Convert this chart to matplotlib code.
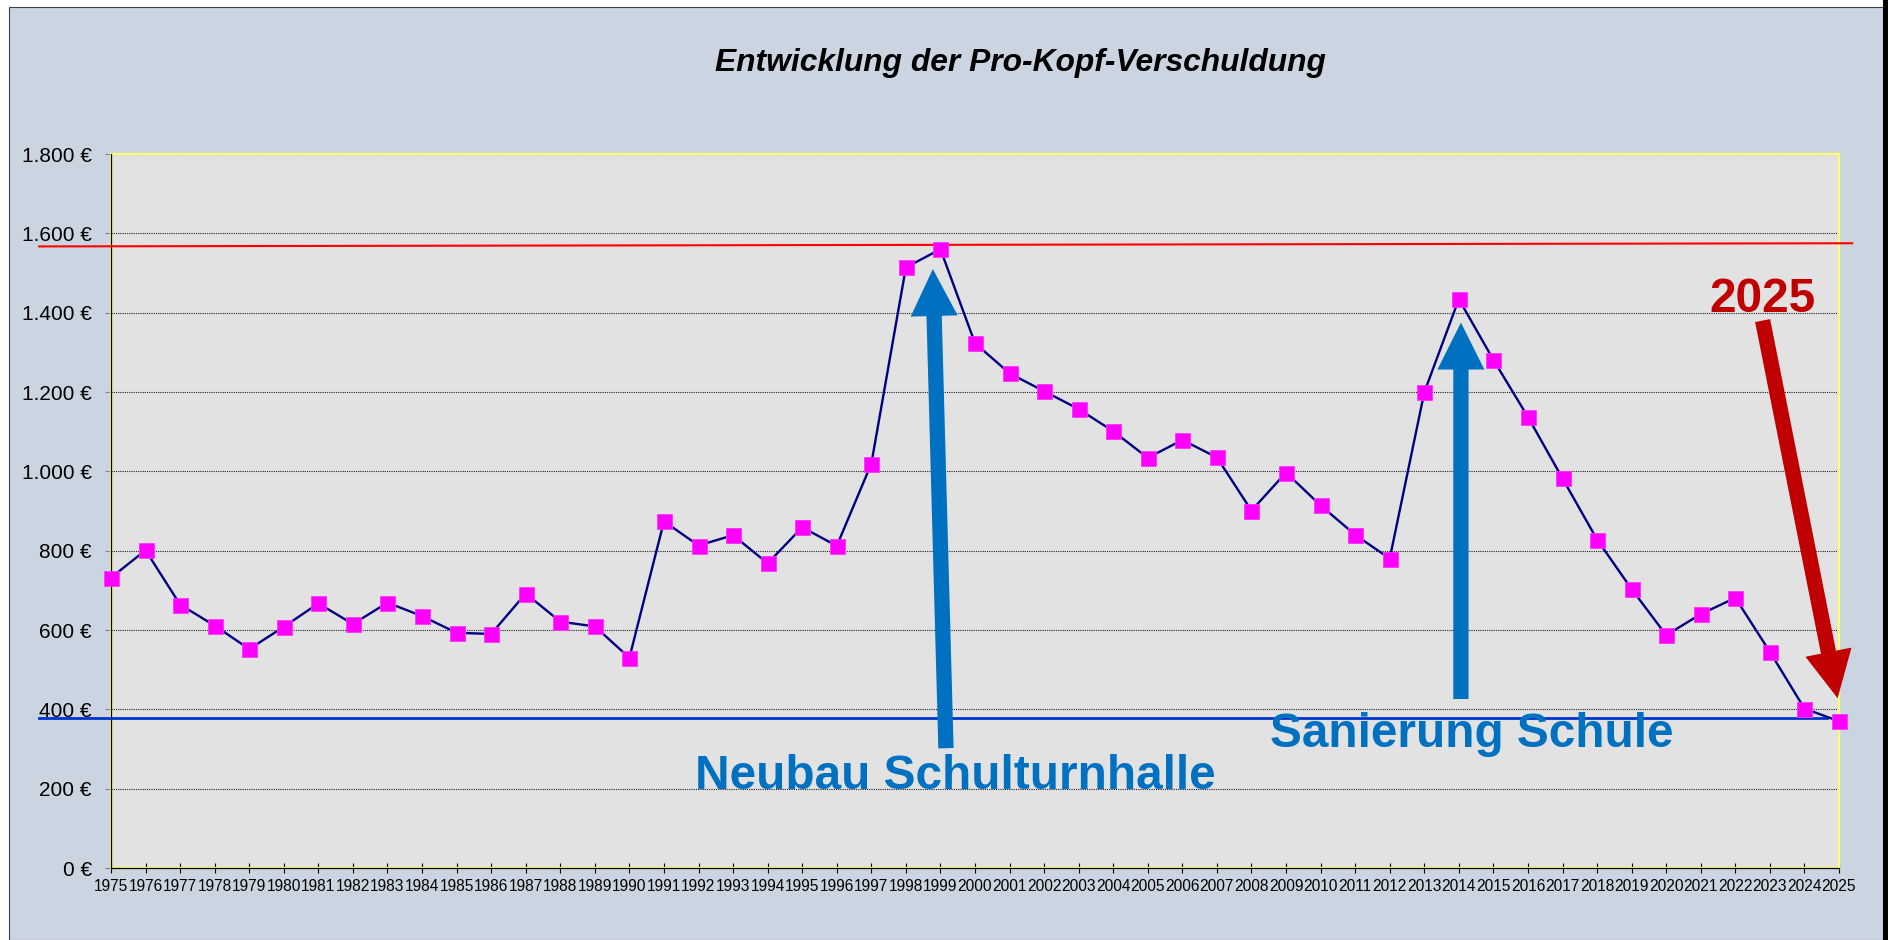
import matplotlib
matplotlib.use("Agg")
import matplotlib.pyplot as plt
from matplotlib.patches import Rectangle, FancyArrowPatch
from matplotlib.ticker import FuncFormatter

# --- data: debt per capita (EUR) ---
years = list(range(1975, 2026))
debt = [732, 801, 664, 611, 552, 608, 667, 615, 669, 635, 593, 590, 692, 621, 609, 530,
        874, 813, 839, 768, 859, 812, 1019, 1514, 1560, 1323,
        1247, 1202, 1157, 1101, 1034, 1079, 1035, 901, 997, 914, 840, 780,
        1199, 1434, 1281, 1137, 982, 828, 703, 587, 640, 681, 545, 402, 370]

y_ticks = [0, 200, 400, 600, 800, 1000, 1200, 1400, 1600, 1800]
title = "Entwicklung der Pro-Kopf-Verschuldung"

# reference levels (peak 1999 / 2025)
high_level = [1567, 1575]
low_level = [378, 378]

# annotations: (x, y) in data units
ann_turnhalle = {"text": "Neubau Schulturnhalle", "pos": (1999.44, 198),
                 "arrow": ((1999.16, 302), (1998.78, 1510))}
ann_schule = {"text": "Sanierung Schule", "pos": (2014.37, 306),
              "arrow": ((2014.06, 426), (2014.06, 1375))}
ann_2025 = {"text": "2025", "pos": (2022.79, 1402),
            "arrow": ((2022.79, 1380), (2024.96, 428))}

BG = "#CBD5E1"
PLOT_BG = "#E2E2E2"
BLUE = "#0070C0"
DARKRED = "#C00000"
FONT = "Liberation Sans"

W, H = 1888, 940
fig = plt.figure(figsize=(W / 100, H / 100), dpi=100)
fig.patch.set_facecolor("white")

# chart area background with thin frame
fig.add_artist(Rectangle((9 / W, 0), (1883 - 9) / W, (H - 7) / H, transform=fig.transFigure,
                         facecolor=BG, edgecolor="#404040", lw=0.8, zorder=-10))
fig.add_artist(Rectangle((1883 / W, 0), 5 / W, 1, transform=fig.transFigure,
                         facecolor="black", edgecolor="none", zorder=-9))

ax = fig.add_axes([111 / W, 1 - 868 / H, (1839 - 111) / W, (868 - 154) / H])
ax.set_facecolor(PLOT_BG)
ax.set_xlim(1975, 2025)
ax.set_ylim(0, 1800)

# grid
ax.set_yticks(y_ticks)
ax.yaxis.grid(True, color="#222222", linestyle=(0, (1, 1)), lw=0.8)
ax.set_axisbelow(True)

# frame: yellow plot-area border + black axis lines
for s in ax.spines.values():
    s.set_color("#FFFF70")
    s.set_linewidth(1.6)
ax.plot([0, 0], [0, 1], transform=ax.transAxes, color="black", lw=0.9, clip_on=False, zorder=3)
ax.plot([0, 1], [0, 0], transform=ax.transAxes, color="black", lw=0.9, clip_on=False, zorder=3)

# ticks
ax.set_xticks(years)
ax.set_xticklabels([str(y) for y in years], fontsize=11.2, fontfamily=FONT)
ax.tick_params(axis="x", direction="inout", length=7.2, width=0.8, color="black", pad=4.5)
ax.yaxis.set_major_formatter(FuncFormatter(lambda v, p: f"{v:,.0f} €".replace(",", ".")))
for lab in ax.get_yticklabels():
    lab.set_fontfamily(FONT)
ax.tick_params(axis="y", direction="out", length=4.3, width=0.8, color="#808080",
               labelsize=15, pad=9.5)

# reference lines
ax.plot([1972.92, 2025.38], high_level, color="#FF0000", lw=1.5, clip_on=False, zorder=4)
ax.plot([1972.92, 2024.65], low_level, color="#0033CC", lw=2.0, clip_on=False, zorder=4)

# data series
ax.plot(years, debt, color="#000080", lw=1.7, zorder=5, clip_on=False,
        marker="s", markersize=10.8, markerfacecolor="#FF00FF", markeredgecolor="#FF33FF",
        markeredgewidth=0.6)

# arrows + labels
for ann, col in [(ann_turnhalle, BLUE), (ann_schule, BLUE), (ann_2025, DARKRED)]:
    arr = FancyArrowPatch(ann["arrow"][0], ann["arrow"][1],
                          arrowstyle="simple,head_length=33.8,head_width=33.8,tail_width=11",
                          mutation_scale=1, shrinkA=0, shrinkB=0,
                          color=col, lw=0, clip_on=False, zorder=6)
    ax.add_patch(arr)
    ax.text(ann["pos"][0], ann["pos"][1], ann["text"], ha="center", va="baseline",
            fontsize=34.4, fontweight="bold", color=col, fontfamily=FONT, zorder=7,
            clip_on=False)

fig.text(1020 / W, 1 - 70.7 / H, title, ha="center", va="baseline", fontsize=22.9,
         fontweight="bold", fontstyle="italic", fontfamily=FONT)

fig.savefig("out.png", dpi=100, facecolor=fig.get_facecolor())
